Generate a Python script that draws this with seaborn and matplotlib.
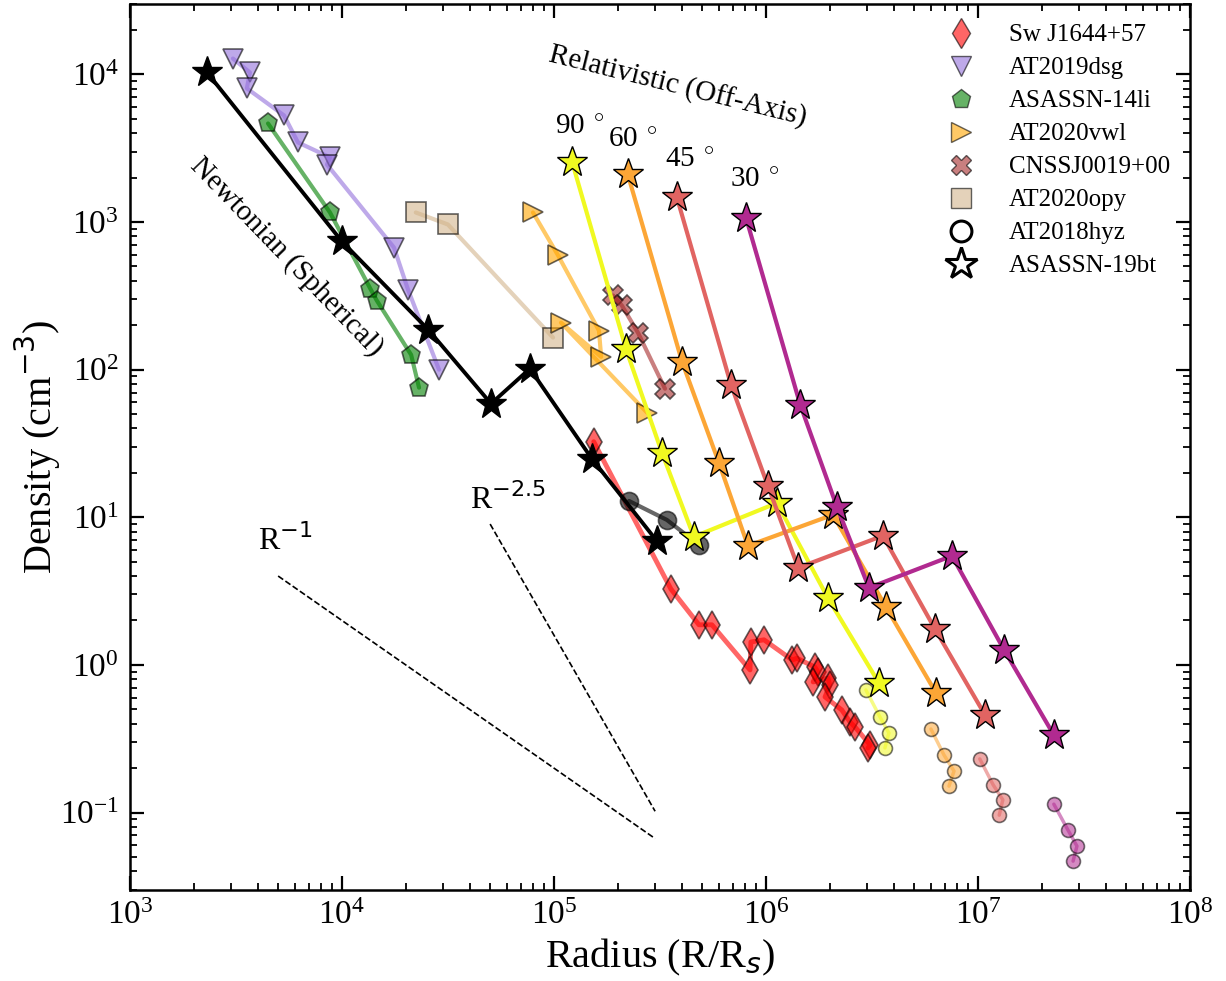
import numpy as np
import matplotlib
matplotlib.use("Agg")
import matplotlib.pyplot as plt
from matplotlib.lines import Line2D
import seaborn as sns

# radius in R/Rs, density in cm^-3
sw_r = [1.54e5, 3.56e5, 4.83e5, 5.56e5, 8.41e5, 8.49e5, 9.79e5, 1.33e6, 1.40e6, 1.70e6,
        1.76e6, 1.67e6, 1.96e6, 2.00e6, 1.90e6, 2.28e6, 2.49e6, 2.63e6, 3.10e6, 3.03e6]
sw_n = [32.5, 3.27, 1.87, 1.87, 0.925, 1.43, 1.48, 1.08, 1.11, 0.968,
        0.897, 0.767, 0.816, 0.731, 0.607, 0.495, 0.411, 0.380, 0.287, 0.274]

dsg_r = [3.06e3, 3.68e3, 3.56e3, 5.33e3, 6.20e3, 8.78e3, 8.50e3, 1.76e4, 2.05e4, 2.87e4]
dsg_n = [1.28e4, 1.03e4, 8.04e3, 5.27e3, 3.46e3, 2.74e3, 2.45e3, 671, 348, 100]

li_r = [4.48e3, 8.78e3, 1.36e4, 1.46e4, 2.12e4, 2.31e4]
li_n = [4.65e3, 1.16e3, 354, 294, 126, 75.5]

vwl_r = [7.96e4, 1.04e5, 1.63e5, 1.67e5, 1.08e5, 2.75e5]
vwl_n = [1.16e3, 602, 184, 122, 208, 51.1]

cns_r = [1.90e5, 2.09e5, 2.49e5, 3.34e5]
cns_n = [318, 272, 178, 74.3]

opy_r = [2.23e4, 3.16e4, 9.9e4]
opy_n = [1.16e3, 962, 165]

hyz_r = [2.26e5, 3.41e5, 4.83e5]
hyz_n = [12.9, 9.6, 6.5]

bt_r = [2.31e3, 1.0e4, 2.55e4, 5.05e4, 7.7e4, 1.51e5, 3.06e5]
bt_n = [1.03e4, 738, 187, 58.8, 101.6, 24.9, 6.9]

# off-axis relativistic solutions, by viewing angle
angles = [90, 60, 45, 30]
rel_bt_r = {
    90: [1.22e5, 2.19e5, 3.23e5, 4.57e5, 1.127e6, 1.96e6, 3.41e6],
    60: [2.23e5, 4.02e5, 6.0e5, 8.22e5, 2.07e6, 3.68e6, 6.34e6],
    45: [3.80e5, 6.84e5, 1.02e6, 1.42e6, 3.56e6, 6.27e6, 1.08e7],
    30: [8.05e5, 1.45e6, 2.16e6, 3.06e6, 7.54e6, 1.33e7, 2.28e7],
}
rel_bt_n = {
    90: [2.53e3, 137, 27.4, 7.38, 12.5, 2.84, 0.755],
    60: [2.10e3, 113, 23.4, 6.41, 10.4, 2.47, 0.646],
    45: [1.47e3, 79, 16.4, 4.55, 7.5, 1.75, 0.458],
    30: [1.07e3, 58, 11.8, 3.33, 5.48, 1.26, 0.335],
}
rel_hyz_r = {
    90: [2.96e6, 3.45e6, 3.80e6, 3.64e6],
    60: [6.0e6, 6.92e6, 7.71e6, 7.30e6],
    45: [1.02e7, 1.18e7, 1.31e7, 1.26e7],
    30: [2.28e7, 2.66e7, 2.93e7, 2.81e7],
}
rel_hyz_n = {
    90: [0.677, 0.444, 0.346, 0.274],
    60: [0.368, 0.245, 0.191, 0.151],
    45: [0.231, 0.154, 0.122, 0.096],
    30: [0.114, 0.076, 0.0593, 0.0469],
}

labels = ["Sw J1644+57", "AT2019dsg", "ASASSN-14li", "AT2020vwl",
          "CNSSJ0019+00", "AT2020opy", "AT2018hyz", "ASASSN-19bt"]

# power-law guides
guide1_r = np.array([5e3, 3e5])
guide1_norm = 4.0
guide2_r = np.array([5e4, 3e5])
guide2_norm = 9.0

sns.set_style("ticks", {"axes.edgecolor": "black", "xtick.color": "black",
                        "ytick.color": "black", "text.color": "black",
                        "axes.labelcolor": "black"})
plt.rcParams["font.family"] = ["Liberation Serif", "DejaVu Sans"]
plt.rcParams["mathtext.fontset"] = "custom"
plt.rcParams["mathtext.rm"] = "Liberation Serif"
plt.rcParams["mathtext.sf"] = "DejaVu Sans"
plt.rcParams["mathtext.it"] = "DejaVu Sans:italic"

cmap = plt.get_cmap("plasma")
ang_col = {90: cmap(1.0), 60: cmap(0.8), 45: cmap(0.6), 30: cmap(0.4)}

fig = plt.figure(figsize=(12.26, 9.81), dpi=100)
ax = fig.add_axes([0.106, 0.093, 0.8646, 0.903])
ax.set(xscale="log", yscale="log")


def draw(r, n, color, marker, ms, lw=3, alpha=0.6, z=2, mew=1.2):
    sns.lineplot(x=r, y=n, ax=ax, sort=False, estimator=None, color=color,
                 lw=lw, alpha=alpha, marker=marker, markersize=ms,
                 markeredgecolor="k", markeredgewidth=mew, zorder=z)


# surveyed events
draw(opy_r, opy_n, "tan", "s", 15)
draw(dsg_r, dsg_n, "mediumpurple", "v", 15)
draw(li_r, li_n, "green", "p", 14)
draw(vwl_r, vwl_n, "orange", ">", 15)
draw(cns_r, cns_n, "brown", "X", 14)
draw(sw_r, sw_n, "red", "d", 14, lw=3.5)
draw(hyz_r, hyz_n, "black", "o", 13)

# relativistic tracks
for a in angles:
    draw(rel_hyz_r[a], rel_hyz_n[a], ang_col[a], "o", 10, lw=2.5, alpha=0.55)
for a in angles:
    draw(rel_bt_r[a], rel_bt_n[a], ang_col[a], "*", 23, lw=3, alpha=1.0, z=4, mew=1.0)

# newtonian ASASSN-19bt
draw(bt_r, bt_n, "black", "*", 23, lw=2.8, alpha=1.0, z=5, mew=1.0)

ax.plot(guide1_r, guide1_norm * (guide1_r / guide1_r[0]) ** -1.0, "k--", lw=1.2)
ax.plot(guide2_r, guide2_norm * (guide2_r / guide2_r[0]) ** -2.5, "k--", lw=1.2)

ax.text(4.0e3, 7.0, r"R$^{\mathsf{-1}}$", fontsize=23, va="center")
ax.text(4.0e4, 13.2, r"R$^{\mathsf{-2.5}}$", fontsize=23, va="center")
ax.text(5.5e3, 583, "Newtonian (Spherical)", fontsize=21, rotation=-46,
        ha="center", va="center", rotation_mode="anchor")
ax.text(3.85e5, 8.2e3, "Relativistic (Off-Axis)", fontsize=21, rotation=-14,
        ha="center", va="center", rotation_mode="anchor")
ang_pos = {90: (1.01e5, 4.37e3), 60: (1.8e5, 3.6e3), 45: (3.34e5, 2.65e3), 30: (6.76e5, 1.94e3)}
for a in angles:
    ax.text(ang_pos[a][0], ang_pos[a][1], f"{a}" + r"$\,^\circ$", fontsize=21, va="center")

ax.set_xlim(1e3, 1e8)
ax.set_ylim(0.03, 3e4)
ax.set_xlabel(r"Radius (R/R$_{\mathit{s}}$)", fontsize=29, labelpad=4)
ax.set_ylabel(r"Density (cm$^{\mathsf{-3}}$)", fontsize=29, labelpad=-2)
ax.tick_params(which="both", direction="in", top=True, right=True, labelsize=24)
ax.tick_params(which="major", length=10, width=1.6, pad=8)
ax.tick_params(which="minor", length=5, width=1.3)
for s in ax.spines.values():
    s.set_linewidth(1.8)

handles = [
    Line2D([], [], ls="none", marker="d", ms=15, color="red", alpha=0.6, mec="k"),
    Line2D([], [], ls="none", marker="v", ms=15, color="mediumpurple", alpha=0.6, mec="k"),
    Line2D([], [], ls="none", marker="p", ms=14, color="green", alpha=0.6, mec="k"),
    Line2D([], [], ls="none", marker=">", ms=15, color="orange", alpha=0.6, mec="k"),
    Line2D([], [], ls="none", marker="X", ms=14, color="brown", alpha=0.6, mec="k"),
    Line2D([], [], ls="none", marker="s", ms=15, color="tan", alpha=0.6, mec="k"),
    Line2D([], [], ls="none", marker="o", ms=15, mfc="none", mec="k", mew=2.2),
    Line2D([], [], ls="none", marker="*", ms=24, mfc="none", mec="k", mew=2.2),
]
ax.legend(handles, labels, loc="upper right", frameon=False, fontsize=18,
          labelspacing=0.42, handletextpad=0.9, borderaxespad=0.4)

fig.savefig("out.png", dpi=100)
